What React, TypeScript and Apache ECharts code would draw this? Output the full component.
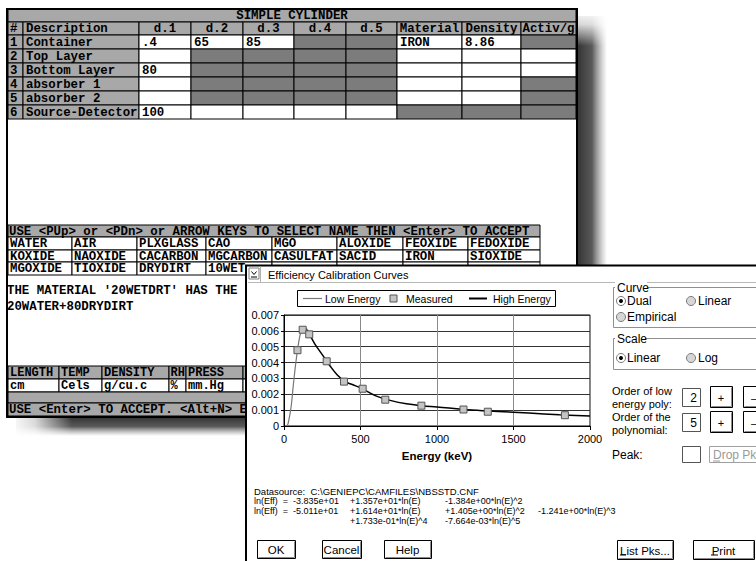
import React, { useEffect, useRef } from "react";
import * as echarts from "echarts";

// ---- chart data ----
const seriesNames = ["Low Energy", "Measured", "High Energy"];
const xTicks = { min: 0, max: 2000, step: 500 };
const yTicks = { min: 0, max: 0.007, step: 0.001 };
const axisTitle = "Energy (keV)";

const lowEnergyKeV = [20, 25, 30, 40, 50, 60, 70, 80, 90, 100, 110, 122, 135, 150, 165];
const lowEnergyEff = [0.00003, 0.0001, 0.0003, 0.0008, 0.0015, 0.0025, 0.0034, 0.0042, 0.0049, 0.0055, 0.0059, 0.0061, 0.0062, 0.0061, 0.0059];

const highEnergyKeV = [140, 165, 200, 250, 300, 350, 400, 450, 500, 600, 700, 800, 900, 1000, 1200, 1400, 1600, 1800, 2000];
const highEnergyEff = [0.0061, 0.0058, 0.0052, 0.0045, 0.0038, 0.0032, 0.0028, 0.0026, 0.0024, 0.0019, 0.0016, 0.0014, 0.00128, 0.0012, 0.00103, 0.00092, 0.00082, 0.00071, 0.00063];

const measuredKeV = [88, 122, 165, 279, 392, 514, 662, 898, 1173, 1332, 1836];
const measuredEff = [0.00478, 0.00607, 0.00578, 0.00408, 0.0028, 0.00235, 0.00166, 0.00128, 0.00104, 0.0009, 0.00068];

// ---- surrounding screen texts ----
const cylTitle = "SIMPLE CYLINDER";
const cylHeaders = ["#", "Description", "d.1", "d.2", "d.3", "d.4", "d.5", "Material", "Density", "Activ/g"];
const cylRows = [
  ["1", "Container", ".4", "65", "85", "", "", "IRON", "8.86", ""],
  ["2", "Top Layer", "", "", "", "", "", "", "", ""],
  ["3", "Bottom Layer", "80", "", "", "", "", "", "", ""],
  ["4", "absorber 1", "", "", "", "", "", "", "", ""],
  ["5", "absorber 2", "", "", "", "", "", "", "", ""],
  ["6", "Source-Detector", "100", "", "", "", "", "", "", ""],
];
const cylShade = ["wwwddwwd", "wddddwww", "wddddwww", "wddddwwd", "wddddwwd", "wwwwwddd"];

const pickPrompt = "USE <PUp> or <PDn> or ARROW KEYS TO SELECT NAME THEN <Enter> TO ACCEPT";
const materialNames = [
  ["WATER", "AIR", "PLXGLASS", "CAO", "MGO", "ALOXIDE", "FEOXIDE", "FEDOXIDE"],
  ["KOXIDE", "NAOXIDE", "CACARBON", "MGCARBON", "CASULFAT", "SACID", "IRON", "SIOXIDE"],
  ["MGOXIDE", "TIOXIDE", "DRYDIRT", "10WET", "", "", "", ""],
];
const materialNote = ["THE MATERIAL '20WETDRT' HAS THE F", "20WATER+80DRYDIRT"];
const envHeaders = ["LENGTH", "TEMP", "DENSITY", "RH", "PRESS", "T"];
const envUnits = ["cm", "Cels", "g/cu.c", "%", "mm.Hg", "S"];
const dosFooter = "USE <Enter> TO ACCEPT. <Alt+N> E";

const dialogTitle = "Efficiency Calibration Curves";
const dataSource = "Datasource:  C:\\GENIEPC\\CAMFILES\\NBSSTD.CNF";
const fitLines = [
  ["ln(Eff)  =  -3.835e+01", "+1.357e+01*ln(E)", "-1.384e+00*ln(E)^2", ""],
  ["ln(Eff)  =  -5.011e+01", "+1.614e+01*ln(E)", "+1.405e+00*ln(E)^2", "-1.241e+00*ln(E)^3"],
  ["", "+1.733e-01*ln(E)^4", "-7.664e-03*ln(E)^5", ""],
];

const MONO = 'bold 12.4px "Liberation Mono"';
const MONO_S = 'bold 12px "Liberation Mono"';
const SANS = '"Liberation Sans", Arial, sans-serif';
const LGRAY = "#a8a8a8";
const DGRAY = "#7c7c7c";

function buildGraphics() {
  const els: any[] = [];
  const R = (x: number, y: number, w: number, h: number, fill: any, stroke: any = null, lw = 1, z = 2, extra: any = {}) =>
    els.push({ type: "rect", z, shape: { x, y, width: w, height: h }, style: { fill, stroke: stroke || undefined, lineWidth: lw, ...extra } });
  const T = (x: number, y: number, text: string, font: string, z = 3, align = "left", fill = "#000") =>
    els.push({ type: "text", z, x, y, style: { text, font, fill, textAlign: align, textVerticalAlign: "middle" } });
  const L = (x1: number, y1: number, x2: number, y2: number, stroke: string, lw = 1, z = 3) =>
    els.push({ type: "line", z, shape: { x1, y1, x2, y2 }, style: { stroke, lineWidth: lw } });
  const grad = (horizontal: boolean, stops: [number, string][]) => ({
    type: "linear", x: 0, y: 0, x2: horizontal ? 1 : 0, y2: horizontal ? 0 : 1,
    colorStops: stops.map(([offset, color]) => ({ offset, color })),
  });

  // ---- DOS window shadow ----
  const shadowStops: [number, string][] = [[0, "rgba(40,40,40,0.95)"], [0.5, "rgba(60,60,60,0.85)"], [1, "rgba(120,120,120,0)"]];
  R(577, 16, 30, 260, grad(true, shadowStops), null, 0, 1);
  R(16, 417, 590, 19, grad(false, shadowStops), null, 0, 1);
  R(577, 10, 32, 36, grad(false, [[0, "rgba(255,255,255,1)"], [0.4, "rgba(255,255,255,0.8)"], [1, "rgba(255,255,255,0)"]]), null, 0, 1.5);
  R(10, 416, 62, 22, grad(true, [[0, "rgba(255,255,255,1)"], [0.4, "rgba(255,255,255,0.8)"], [1, "rgba(255,255,255,0)"]]), null, 0, 1.5);
  R(606, 416, 30, 24, "#fff", null, 0, 1.6);

  // ---- DOS window ----
  R(7, 9, 570, 408, "#fff", "#000", 2, 2);

  R(8, 9.5, 568, 12.5, LGRAY, "#000", 1, 3);
  T(292, 15.5, cylTitle, MONO, 4, "center");

  const cx = [8, 23, 139, 191, 243, 294, 346, 397, 462, 521, 576];
  for (let c = 0; c < cylHeaders.length; c++) {
    R(cx[c], 22, cx[c + 1] - cx[c], 13, LGRAY, "#000", 1, 3);
    if (c === 0) T(cx[c] + 2, 28.5, cylHeaders[c], MONO, 4);
    else if (c === 1) T(cx[c] + 3, 28.5, cylHeaders[c], MONO, 4);
    else T((cx[c] + cx[c + 1]) / 2, 28.5, cylHeaders[c], MONO, 4, "center");
  }
  for (let r = 0; r < cylRows.length; r++) {
    const y0 = 35 + 14 * r;
    for (let c = 0; c < cylHeaders.length; c++) {
      let fill = LGRAY;
      if (c >= 2) fill = cylShade[r][c - 2] === "w" ? "#fff" : DGRAY;
      R(cx[c], y0, cx[c + 1] - cx[c], 14, fill, "#000", 1, 3);
      const t = cylRows[r][c];
      if (t) T(cx[c] + (c === 0 ? 2 : 3), y0 + 7.5, t, MONO, 4);
    }
  }

  // material picker
  R(8, 225, 532, 12, LGRAY, "#000", 1, 3);
  T(9, 231.5, pickPrompt, MONO, 4);
  const mx = [8, 72, 137, 206, 272, 337, 403, 468, 540];
  const my = [237, 250, 262, 275];
  for (let r = 0; r < materialNames.length; r++) {
    for (let c = 0; c < 8; c++) {
      R(mx[c], my[r], mx[c + 1] - mx[c], my[r + 1] - my[r], "#fff", "#000", 1, 3);
      const t = materialNames[r][c];
      if (t) T(mx[c] + 2, (my[r] + my[r + 1]) / 2 + 0.5, t, MONO, 4);
    }
  }
  T(7, 291, materialNote[0], MONO, 4);
  T(7, 307, materialNote[1], MONO, 4);

  // environment table
  const ex = [8, 59, 102, 169, 186, 243, 300];
  for (let c = 0; c < envHeaders.length; c++) {
    const off = c === 3 ? 1.5 : 2;
    R(ex[c], 366, ex[c + 1] - ex[c], 13, LGRAY, "#000", 1, 3);
    T(ex[c] + off, 372.5, envHeaders[c], MONO_S, 4);
    R(ex[c], 379, ex[c + 1] - ex[c], 13, "#fff", "#000", 1, 3);
    T(ex[c] + off, 386, envUnits[c], MONO_S, 4);
  }
  R(8, 392, 568, 11, LGRAY, "#000", 1, 3);
  R(8, 403, 568, 13, LGRAY, "#000", 1, 3);
  T(9, 410, dosFooter, MONO, 4);

  // ---- dialog ----
  R(246, 265.5, 540, 320, "#fff", "#000", 2, 5);
  R(249, 268, 10, 11, "#fff", "#808080", 1, 6);
  els.push({ type: "polyline", z: 7, shape: { points: [[251.5, 271.5], [254, 274.5], [256.5, 271.5]] }, style: { stroke: "#000", lineWidth: 1, fill: null } });
  L(251, 277, 257, 277, "#000", 1, 7);
  L(260.5, 266.5, 260.5, 282, "#b0b0b0", 1, 6);
  T(268, 274.5, dialogTitle, `11px ${SANS}`, 7);
  L(248, 282.5, 756, 282.5, "#b8b8b8", 1, 6);

  // legend box
  R(297.5, 290.5, 258, 16, "#fff", "#000", 1, 6);
  L(303, 298.5, 322, 298.5, "#777", 1.2, 7);
  T(325, 299, seriesNames[0], `10.5px ${SANS}`, 7);
  R(390, 295, 7, 7, "#c4c4c4", "#555", 1, 7);
  T(406, 299, seriesNames[1], `10.5px ${SANS}`, 7);
  L(469, 298.5, 487, 298.5, "#000", 2, 7);
  T(493, 299, seriesNames[2], `10.5px ${SANS}`, 7);

  // right panel
  const F12 = `12px ${SANS}`;
  const F11 = `11px ${SANS}`;
  const radio = (x: number, y: number, on: boolean) => {
    els.push({ type: "circle", z: 7, shape: { cx: x, cy: y, r: 4.5 }, style: { fill: on ? "#fff" : "#d6d6d6", stroke: "#7a7a7a", lineWidth: 1 } });
    if (on) els.push({ type: "circle", z: 8, shape: { cx: x, cy: y, r: 2 }, style: { fill: "#000" } });
  };
  R(613.5, 287.5, 170, 40, null, "#909090", 1, 6);
  R(615, 281, 32, 12, "#fff", null, 0, 6);
  T(617, 287.5, "Curve", F12, 7);
  radio(621, 301, true); T(627, 301, "Dual", F12, 7);
  radio(691, 301, false); T(698, 301, "Linear", F12, 7);
  radio(621, 317, false); T(627, 317, "Empirical", F12, 7);

  R(613.5, 338.5, 170, 31, null, "#909090", 1, 6);
  R(615, 332, 30, 12, "#fff", null, 0, 6);
  T(617, 338.5, "Scale", F12, 7);
  radio(621, 358, true); T(627, 358, "Linear", F12, 7);
  radio(691, 358, false); T(698, 358, "Log", F12, 7);

  T(612, 391, "Order of low", F11, 7);
  T(612, 404, "energy poly:", F11, 7);
  T(612, 416.5, "Order of the", F11, 7);
  T(612, 429.5, "polynomial:", F11, 7);
  T(612, 455, "Peak:", F12, 7);

  const box = (y: number, h: number, val: string) => {
    R(682.5, y + 0.5, 18, h, "#fff", "#555", 1, 6);
    if (val) T(697, y + h / 2 + 1, val, F12, 7, "right");
  };
  box(388, 18, "2");
  box(413, 18, "5");
  box(446, 16, "");

  const btn = (x: number, y: number, w: number, h: number, label: string, font: string, color = "#000", border = "#000") => {
    R(x + 0.5, y + 0.5, w, h, "#fff", border, 1, 6);
    L(x + 1.5, y + h - 0.5, x + w - 0.5, y + h - 0.5, "#8a8a8a", 1, 7);
    L(x + w - 0.5, y + 1.5, x + w - 0.5, y + h - 0.5, "#8a8a8a", 1, 7);
    T(x + w / 2, y + h / 2 + 1, label, font, 7, "center", color);
  };
  btn(710, 386, 22, 21, "+", `11px ${SANS}`);
  btn(743, 386, 22, 21, "–", `11px ${SANS}`);
  btn(710, 411, 22, 21, "+", `11px ${SANS}`);
  btn(743, 411, 22, 21, "–", `11px ${SANS}`);
  R(709.5, 446.5, 60, 16, "#fff", "#a0a0a0", 1, 6);
  T(713, 455, "Drop Pk", F12, 7, "left", "#9a9a9a");
  L(713, 461, 720, 461, "#9a9a9a", 1, 7);

  // fit results
  const F9 = `9px ${SANS}`;
  T(254, 491.5, dataSource, `9.5px ${SANS}`, 7);
  const fx = [254, 350, 445, 538];
  const fy = [501.3, 511.1, 520.9];
  for (let r = 0; r < fitLines.length; r++)
    for (let c = 0; c < 4; c++) if (fitLines[r][c]) T(fx[c], fy[r], fitLines[r][c], F9, 7);

  // buttons
  const BF = `11.5px ${SANS}`;
  btn(257, 540, 38, 18, "OK", BF);
  btn(322, 540, 39, 18, "Cancel", BF);
  btn(384, 540, 47, 18, "Help", BF);
  btn(617, 540, 56, 19, "List Pks...", BF);
  L(620, 555, 626, 555, "#000", 1, 7);
  btn(693, 540, 61, 19, "Print", BF);
  L(711, 555, 718, 555, "#000", 1, 7);

  return els;
}

export default function App() {
  const ref = useRef<HTMLDivElement>(null);
  useEffect(() => {
    if (!ref.current) return;
    const chart = echarts.init(ref.current, undefined, { renderer: "svg" });
    const axisFont = { color: "#000", fontSize: 11, fontFamily: SANS };
    chart.setOption({
      animation: false,
      backgroundColor: "#fff",
      graphic: { elements: buildGraphics() },
      grid: { left: 284, top: 315, width: 306, height: 111, show: true, borderColor: "#000", borderWidth: 1, backgroundColor: "transparent", z: 10 },
      xAxis: {
        type: "value",
        min: xTicks.min,
        max: xTicks.max,
        interval: xTicks.step,
        z: 10,
        name: axisTitle,
        nameLocation: "middle",
        nameGap: 24,
        nameTextStyle: { color: "#000", fontSize: 11.5, fontWeight: "bold", fontFamily: SANS },
        axisLine: { show: true, onZero: false, lineStyle: { color: "#000", width: 1 } },
        axisTick: { show: true, length: 4, lineStyle: { color: "#000" } },
        axisLabel: { ...axisFont, margin: 7, formatter: (v: number) => String(v) },
        splitLine: { show: true, lineStyle: { color: "#8a8a8a", width: 1 } },
      },
      yAxis: {
        type: "value",
        min: yTicks.min,
        max: yTicks.max,
        interval: yTicks.step,
        z: 10,
        axisLine: { show: true, lineStyle: { color: "#000", width: 1 } },
        axisTick: { show: true, length: 3, lineStyle: { color: "#000" } },
        axisLabel: { ...axisFont, margin: 5 },
        splitLine: { show: true, lineStyle: { color: "#333", width: 1 } },
      },
      series: [
        {
          name: seriesNames[0],
          type: "line",
          z: 12,
          smooth: 0.4,
          symbol: "none",
          lineStyle: { color: "#777", width: 1.2 },
          data: lowEnergyKeV.map((e, i) => [e, lowEnergyEff[i]]),
        },
        {
          name: seriesNames[2],
          type: "line",
          z: 12,
          smooth: 0.4,
          symbol: "none",
          lineStyle: { color: "#000", width: 1.5 },
          data: highEnergyKeV.map((e, i) => [e, highEnergyEff[i]]),
        },
        {
          name: seriesNames[1],
          type: "scatter",
          z: 13,
          symbol: "rect",
          symbolSize: 7,
          itemStyle: { color: "#c4c4c4", borderColor: "#555", borderWidth: 1, opacity: 1 },
          data: measuredKeV.map((e, i) => [e, measuredEff[i]]),
        },
      ],
    });
    return () => chart.dispose();
  }, []);
  return <div ref={ref} style={{ position: "fixed", left: 0, top: 0, width: 756, height: 561 }} />;
}
